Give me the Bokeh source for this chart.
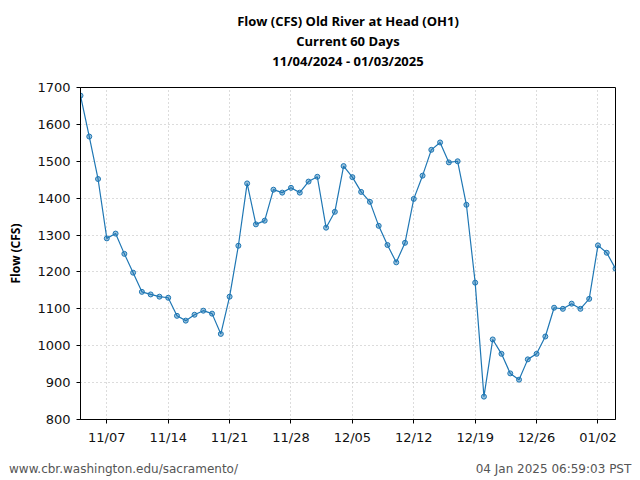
import pandas as pd
from bokeh.plotting import figure
from bokeh.models import (Range1d, FixedTicker, DatetimeTickFormatter, Title, LinearAxis,
                          ColumnDataSource)
from bokeh.embed import file_html
from bokeh.resources import INLINE

start_date = "2024-11-04"
flow_cfs = [1678, 1567, 1452, 1291, 1304, 1249, 1198, 1146, 1139, 1133,
            1130, 1081, 1068, 1084, 1095, 1087, 1032, 1133, 1271, 1440,
            1329, 1339, 1423, 1415, 1428, 1415, 1445, 1458, 1320, 1363,
            1487, 1457, 1417, 1390, 1325, 1273, 1226, 1279, 1398, 1461,
            1531, 1551, 1497, 1500, 1382, 1171, 862, 1017, 978, 925,
            908, 963, 978, 1025, 1103, 1100, 1114, 1100, 1127, 1272,
            1252, 1209]
x_tick_dates = ["2024-11-07", "2024-11-14", "2024-11-21", "2024-11-28",
                "2024-12-05", "2024-12-12", "2024-12-19", "2024-12-26",
                "2025-01-02"]
y_ticks = [800, 900, 1000, 1100, 1200, 1300, 1400, 1500, 1600, 1700]
title_lines = ["Flow (CFS) Old River at Head (OH1)", "Current 60 Days",
               "11/04/2024 - 01/03/2025"]
y_label = "Flow (CFS)"
footer_left = "www.cbr.washington.edu/sacramento/"
footer_right = "04 Jan 2025 06:59:03 PST"

dates = pd.date_range(start=start_date, periods=len(flow_cfs), freq="D")
src = ColumnDataSource(dict(date=dates, flow=flow_cfs))

p = figure(width=640, height=480, x_axis_type="datetime",
           output_backend="svg", toolbar_location=None,
           x_range=Range1d(dates[0], dates[-1]),
           y_range=Range1d(y_ticks[0], y_ticks[-1]))
p.min_border_left = 80
p.min_border_right = 25
p.min_border_top = 87
p.min_border_bottom = 61
p.background_fill_color = "white"
p.border_fill_color = "white"
p.outline_line_color = "black"
p.outline_line_width = 1

line_color = "#1f77b4"
p.line("date", "flow", source=src, line_color=line_color, line_width=1.2)
p.scatter("date", "flow", source=src, marker="circle", size=5,
          line_color=line_color, fill_color=line_color, fill_alpha=0.45, line_width=1)

tick_ms = [pd.Timestamp(d).value // 10**6 for d in x_tick_dates]
p.xaxis.ticker = FixedTicker(ticks=tick_ms)
fmt = "%m/%d"
p.xaxis.formatter = DatetimeTickFormatter(days=fmt, months=fmt, hours=fmt, years=fmt,
                                          microseconds=fmt, milliseconds=fmt,
                                          seconds=fmt, minsec=fmt, minutes=fmt, hourmin=fmt)
p.yaxis.ticker = FixedTicker(ticks=y_ticks)

for ax in (p.xaxis[0], p.yaxis[0]):
    ax.axis_line_color = "black"
    ax.major_tick_line_color = "black"
    ax.major_tick_out = 4
    ax.major_tick_in = 0
    ax.minor_tick_line_color = None
    ax.major_label_text_font = "DejaVu Sans"
    ax.major_label_text_font_size = "13px"
    ax.major_label_text_color = "#111111"
    ax.major_label_standoff = 6

p.yaxis.axis_label = y_label
p.yaxis.axis_label_text_font = "Open Sans"
p.yaxis.axis_label_text_font_style = "bold"
p.yaxis.axis_label_text_font_size = "12px"
p.yaxis.axis_label_text_color = "black"
p.yaxis.axis_label_standoff = 10

for g in (p.xgrid[0], p.ygrid[0]):
    g.grid_line_color = "#b8b8b8"
    g.grid_line_dash = "1 3"
    g.grid_line_width = 1

# spacer between frame and title block
p.add_layout(Title(text=" ", text_font_size="1px", standoff=15), "above")
# Title lines: added nearest-first
for t in reversed(title_lines):
    p.add_layout(Title(text=t, align="center", text_font="Open Sans",
                       text_font_style="bold", text_font_size="13px",
                       text_color="black", standoff=0), "above")

# Footer line, drawn as an invisible pixel-scaled axis below the date axis
frame_w = 640 - 80 - 25
p.extra_x_ranges = {"foot": Range1d(0, frame_w)}
foot_axis = LinearAxis(x_range_name="foot", ticker=FixedTicker(ticks=[43, 473]),
                       major_label_overrides={43: footer_left, 473: footer_right})
foot_axis.axis_line_color = None
foot_axis.major_tick_line_color = None
foot_axis.minor_tick_line_color = None
foot_axis.major_tick_out = 0
foot_axis.major_tick_in = 0
foot_axis.major_label_standoff = 14
foot_axis.major_label_text_font = "DejaVu Sans"
foot_axis.major_label_text_font_size = "12px"
foot_axis.major_label_text_color = "#555555"
p.add_layout(foot_axis, "below")

open("out.html", "w").write(file_html(p, INLINE))
